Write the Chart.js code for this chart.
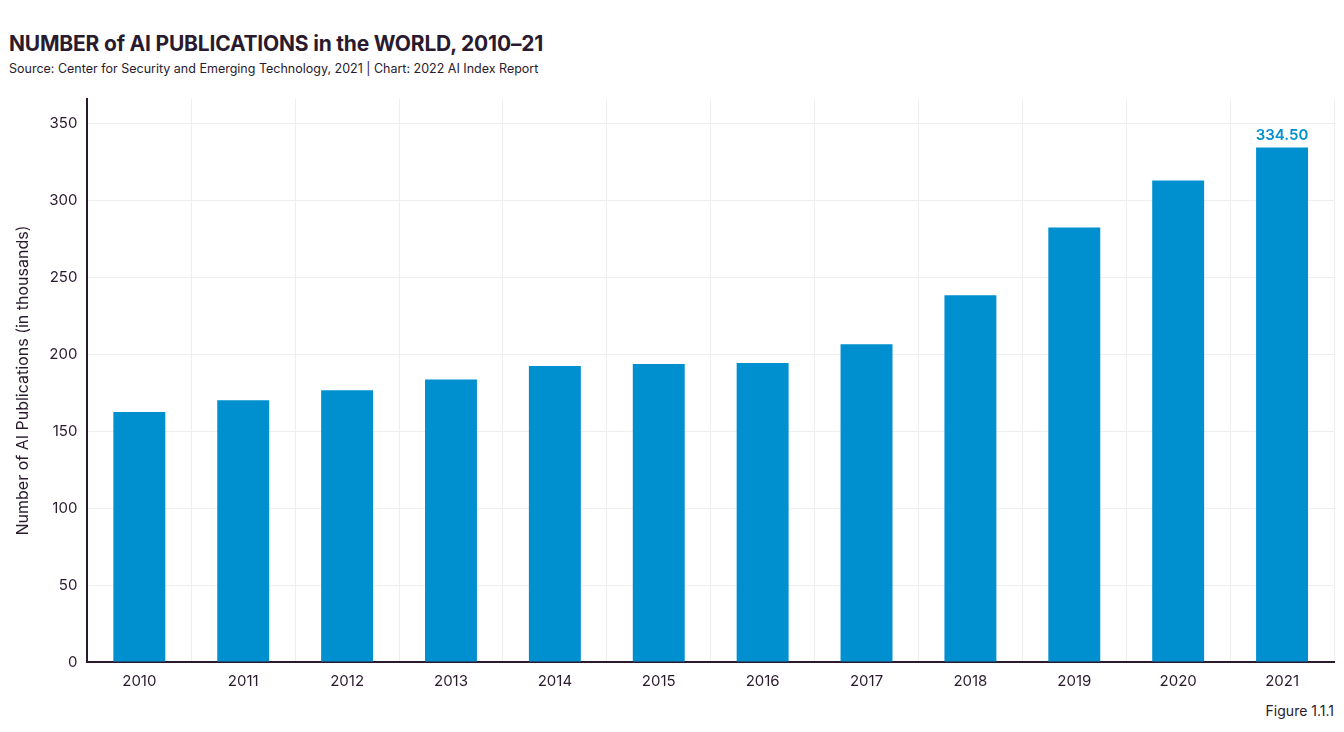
<!DOCTYPE html>
<html>
<head>
<meta charset="utf-8">
<script src="https://cdn.jsdelivr.net/npm/chart.js@4"></script>
<style>
  body { margin: 0; background: #fff; font-family: Inter, sans-serif; color: #2a1a2e; }
  #title { position: absolute; left: 9px; top: 31px; font-size: 21px; font-weight: 700; letter-spacing: -0.2px; }
  #source { position: absolute; left: 9px; top: 61px; font-size: 12.5px; }
  #fig { position: absolute; right: 10px; top: 702px; font-size: 14px; }
  #wrap { position: absolute; left: 0; top: 80px; width: 1344px; height: 620px; }
</style>
</head>
<body>
<div id="title">NUMBER of AI PUBLICATIONS in the WORLD, 2010–21</div>
<div id="source">Source: Center for Security and Emerging Technology, 2021 | Chart: 2022 AI Index Report</div>
<div id="wrap"><canvas id="c"></canvas></div>
<div id="fig">Figure 1.1.1</div>
<script>
const years = ['2010','2011','2012','2013','2014','2015','2016','2017','2018','2019','2020','2021'];
const publications = [162.6, 170.2, 176.6, 183.6, 192.5, 193.8, 194.4, 206.6, 238.4, 282.4, 313.0, 334.5];
const labelIndex = 11;

// Label the last bar with its value
const valueLabel = {
    id: 'valueLabel',
    afterDatasetsDraw(chart) {
        const bar = chart.getDatasetMeta(0).data[labelIndex];
        const ctx = chart.ctx;
        ctx.save();
        ctx.fillStyle = '#0090cf';
        ctx.font = '600 15px Inter';
        ctx.textAlign = 'center';
        ctx.fillText(publications[labelIndex].toFixed(2), bar.x, bar.y - 7);
        ctx.restore();
    }
};

new Chart(document.getElementById('c'), {
    type: 'bar',
    data: {
        labels: years,
        datasets: [{
            data: publications,
            backgroundColor: '#0090cf',
            barPercentage: 0.5,
            categoryPercentage: 1
        }]
    },
    options: {
        responsive: true,
        maintainAspectRatio: false,
        animation: false,
        layout: { padding: { left: 8, right: 10, top: 8, bottom: 0 } },
        plugins: { legend: { display: false }, tooltip: { enabled: false } },
        scales: {
            x: {
                grid: { color: '#eeeeee', drawTicks: false },
                border: { color: '#2a1a2e', width: 2 },
                ticks: { color: '#2a1a2e', font: { family: 'Inter', size: 15 }, padding: 10 }
            },
            y: {
                min: 0, max: 366,
                grid: { color: '#eeeeee', drawTicks: false },
                border: { color: '#2a1a2e', width: 2 },
                ticks: {
                    stepSize: 50, color: '#2a1a2e', padding: 10,
                    font: { family: 'Inter', size: 15 },
                    callback: v => v % 50 === 0 ? v : null
                },
                title: {
                    display: true, text: 'Number of AI Publications (in thousands)',
                    color: '#2a1a2e', font: { family: 'Inter', size: 16 }, padding: 6
                }
            }
        }
    },
    plugins: [valueLabel]
});
</script>
</body>
</html>
